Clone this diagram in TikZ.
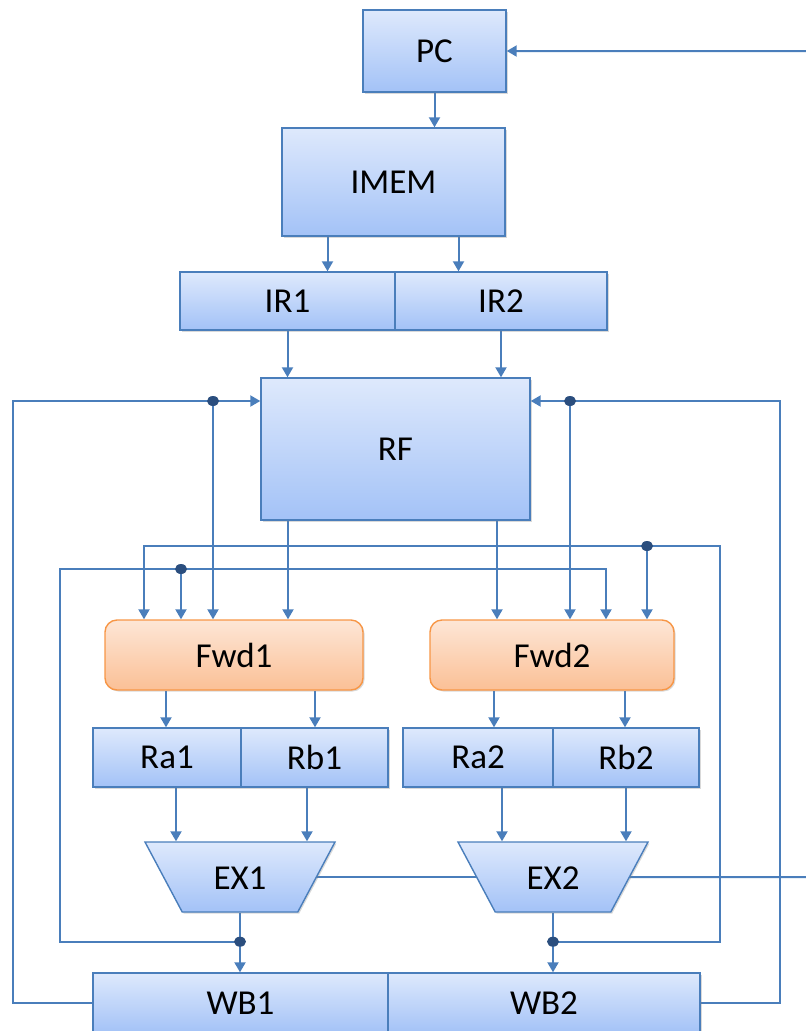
\documentclass[tikz,border=0pt]{standalone}
\usepackage{fontspec}
\setmainfont{Carlito}
\usetikzlibrary{arrows.meta,shapes.geometric,shadows,backgrounds}

\definecolor{edge}{HTML}{4A7EBB}
\definecolor{bluetop}{HTML}{DEE9FC}
\definecolor{bluebot}{HTML}{A3C2F7}
\definecolor{orgtop}{HTML}{FDE6D6}
\definecolor{orgbot}{HTML}{FBC096}
\definecolor{orgedge}{HTML}{F79646}
\definecolor{joint}{HTML}{2B4E7E}

\tikzset{
  lbl/.style={font=\fontsize{35}{40}\selectfont, text=black, inner sep=0pt},
  shade/.style={drop shadow={shadow xshift=1.5pt, shadow yshift=-1.5pt, opacity=0.3}},
  blk/.style 2 args={lbl, shade, rectangle, draw=edge, line width=1.4pt,
    top color=bluetop, bottom color=bluebot, minimum width=#1, minimum height=#2},
  fwd/.style={lbl, shade, rectangle, rounded corners=12pt, draw=orgedge, line width=1.4pt,
    top color=orgtop, bottom color=orgbot, minimum width=#1, minimum height=70},
  alu/.style={lbl, shade, trapezium, trapezium left angle=118, trapezium right angle=118,
    trapezium stretches body, text height=24pt, text depth=0pt, inner ysep=23pt,
    draw=edge, line width=1.4pt,
    top color=bluetop, bottom color=bluebot, minimum width=190},
  wire/.style={draw=edge, line width=2pt},
  arr/.style={wire, -{Triangle[length=10pt,width=11pt]}},
  dot/.style={fill=joint}
}

\begin{document}
\begin{tikzpicture}[x=1pt,y=-1pt]
\clip (0,0) rectangle (806,1031);

% fetch stage
\node[blk={143}{82}]  (PC)   at (434.5,51)  {PC};
\node[blk={223}{108}] (IMEM) at (393.5,182) {IMEM};
\node[blk={215}{58}]  (IR1)  at (287.5,301) {IR1};
\node[blk={212}{58}]  (IR2)  at (501,301)   {IR2};

% register file
\node[blk={269}{142}] (RF) at (395.5,449) {RF};

% forwarding units
\node[fwd=258] (Fwd1) at (234,655) {Fwd1};
\node[fwd=244] (Fwd2) at (552,655) {Fwd2};

% operand registers
\node[blk={148}{59}] (Ra1) at (167,757.5)   {Ra1};
\node[blk={147}{59}] (Rb1) at (314.5,757.5) {Rb1};
\node[blk={150}{59}] (Ra2) at (478,757.5)   {Ra2};
\node[blk={146}{59}] (Rb2) at (626,757.5)   {Rb2};

% execution units
\node[alu] (EX1) at (240,877) {EX1};
\node[alu] (EX2) at (553,877) {EX2};

% write-back registers
\node[blk={295}{60}] (WB1) at (240.5,1003) {WB1};
\node[blk={312}{60}] (WB2) at (544,1003)   {WB2};

% junction points
\coordinate (jL) at (213,401);
\coordinate (jR) at (570,401);
\coordinate (jA) at (647,546);
\coordinate (jB) at (181,569);
\path (EX1.south) ++(0,29) coordinate (jE1);
\path (EX2.south) ++(0,29) coordinate (jE2);

\begin{pgfonlayer}{background}
  % fetch path
  \draw[arr] (PC.south) -- (PC.south |- IMEM.north);
  \draw[arr] ([xshift=-66pt]IMEM.south) -- ([xshift=-66pt]IMEM.south |- IR1.north);
  \draw[arr] ([xshift=65pt]IMEM.south) -- ([xshift=65pt]IMEM.south |- IR2.north);
  \draw[arr] (IR1.south) -- (IR1.south |- RF.north);
  \draw[arr] (IR2.south) -- (IR2.south |- RF.north);

  % register reads
  \draw[arr] ([xshift=-107.5pt]RF.south) -- ([xshift=-107.5pt]RF.south |- Fwd1.north);
  \draw[arr] ([xshift=101.5pt]RF.south) -- ([xshift=101.5pt]RF.south |- Fwd2.north);

  % write-back feedback into RF and forwarding
  \draw[arr] (WB1.west) -| (13,401) -- ([yshift=48pt]RF.west);
  \draw[arr] (WB2.east) -| (780,401) -- ([yshift=48pt]RF.east);
  \draw[arr] (jL) -- (jL |- Fwd1.north);
  \draw[arr] (jR) -- (jR |- Fwd2.north);

  % execution results forwarded
  \draw[arr] (jE2) -| (720,546) -| ([xshift=-90pt]Fwd1.north);
  \draw[arr] (jA) -- (jA |- Fwd2.north);
  \draw[arr] (jE1) -| (60,569) -| ([xshift=54pt]Fwd2.north);
  \draw[arr] (jB) -- (jB |- Fwd1.north);

  % forwarding to operand registers
  \draw[arr] ([xshift=-68pt]Fwd1.south) -- ([xshift=-68pt]Fwd1.south |- Ra1.north);
  \draw[arr] ([xshift=81pt]Fwd1.south) -- ([xshift=81pt]Fwd1.south |- Rb1.north);
  \draw[arr] ([xshift=-58pt]Fwd2.south) -- ([xshift=-58pt]Fwd2.south |- Ra2.north);
  \draw[arr] ([xshift=73pt]Fwd2.south) -- ([xshift=73pt]Fwd2.south |- Rb2.north);

  % operands to execution units
  \draw[arr] ([xshift=9pt]Ra1.south) -- ([xshift=9pt]Ra1.south |- EX1.north);
  \draw[arr] ([xshift=-7.5pt]Rb1.south) -- ([xshift=-7.5pt]Rb1.south |- EX1.north);
  \draw[arr] ([xshift=24pt]Ra2.south) -- ([xshift=24pt]Ra2.south |- EX2.north);
  \draw[arr] (Rb2.south) -- (Rb2.south |- EX2.north);

  % results to write-back
  \draw[arr] (EX1.south) -- (EX1.south |- WB1.north);
  \draw[arr] (EX2.south) -- (EX2.south |- WB2.north);

  % branch target back to PC
  \draw[wire] (EX1.east) -- (EX2.west);
  \draw[arr] (EX2.east) -- (840,877) |- (PC.east);
\end{pgfonlayer}

% junction dots
\foreach \j in {jL,jR,jA,jB,jE1,jE2}
  \fill[dot] (\j) ellipse (6pt and 5pt);
\end{tikzpicture}
\end{document}
